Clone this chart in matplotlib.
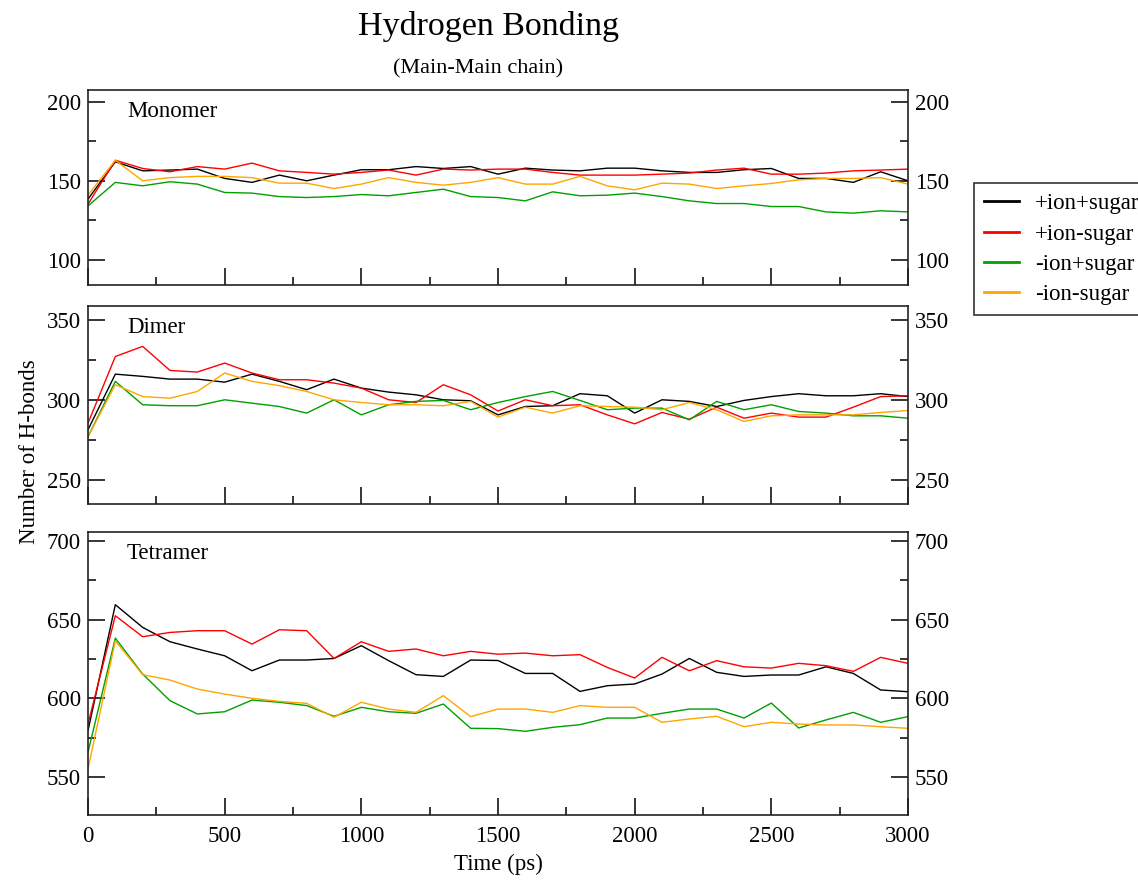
import numpy as np
import matplotlib
matplotlib.use("Agg")
import matplotlib.pyplot as plt
from matplotlib.ticker import MultipleLocator

plt.rcParams['font.family'] = ['Liberation Serif', 'DejaVu Serif']

# waktu simulasi (ps)
time = list(range(0, 3100, 100))
labels = ["+ion+sugar", "+ion-sugar", "-ion+sugar", "-ion-sugar"]
colors = ["black", "red", "#00a000", "orange"]

# Monomer
mono_ion_sugar = [138.4, 162, 156.3, 156.8, 157.4, 151.5, 149, 153.6, 150, 153.6, 157, 157, 159, 157.8, 159, 154.2,
                  158, 156.8, 156.3, 158, 158, 156.3, 155.3, 155.3, 157, 157.8, 151.5, 151.5, 149, 155.7, 150]
mono_ion_nosugar = [135.2, 163, 157.8, 155.7, 159, 157.4, 161.2, 156.3, 155.3, 154.2, 155.3, 156.8, 153.6, 157.4, 156.8, 157.4,
                    157.4, 155.3, 153.6, 153.6, 153.6, 154.2, 154.9, 156.8, 158, 154.2, 154.2, 154.9, 156.3, 156.8, 157.4]
mono_noion_sugar = [134.1, 149, 146.8, 149.4, 147.9, 142.6, 142.2, 140, 139.4, 140, 141.3, 140.5, 142.6, 144.7, 140, 139.4,
                    137.3, 143, 140.5, 140.9, 142.2, 140, 137.3, 135.6, 135.6, 133.7, 133.7, 130.3, 129.5, 131, 130.3]
mono_noion_nosugar = [141, 163, 150, 152, 152.8, 152.8, 152, 148.5, 148.5, 145.1, 147.9, 152, 149, 147.2, 149, 152,
                      147.9, 147.9, 152.8, 146.8, 144.3, 148.5, 147.9, 145.1, 146.8, 148.3, 150.6, 151.5, 151.5, 152, 147.9]

# Dimer
dim_ion_sugar = [281.3, 316, 314.6, 312.9, 312.9, 311, 316, 311.5, 306.3, 312.9, 307.3, 304.8, 303.1, 300, 299.4, 290.6,
                 295.8, 296.3, 303.8, 302.5, 291.7, 300, 299, 295.8, 299.6, 302, 303.8, 302.5, 302.5, 303.8, 302]
dim_ion_nosugar = [285.4, 327, 333.3, 318.3, 317.3, 322.9, 316.7, 312.5, 312.5, 310.4, 307.3, 300, 298.3, 309.4, 303.1, 293,
                   300, 296.3, 296.9, 290.6, 285, 292.1, 287.9, 295.4, 288.5, 291.7, 289.2, 289.2, 295.4, 302, 302.5]
dim_noion_sugar = [277, 311.5, 296.9, 296.3, 296.3, 300, 297.9, 295.8, 291.7, 300, 290.6, 296.9, 299, 299.6, 293.8, 298.3,
                   302, 305.2, 299.6, 293.8, 294.8, 294.8, 287.5, 299, 293.8, 296.9, 292.7, 291.7, 290, 290, 288.5]
dim_noion_nosugar = [277, 309.4, 302, 301, 305.2, 316.7, 311.5, 308.8, 305.2, 300, 298.3, 296.9, 296.9, 296.3, 299, 289.2,
                     295.4, 291.7, 296.3, 295.8, 295.4, 293.8, 298.3, 293.8, 286.5, 290, 290.6, 290.6, 290.6, 292.1, 293.3]

# Tetramer
tet_ion_sugar = [579.5, 659.4, 645, 635.9, 631.3, 627, 617.5, 624.3, 624.3, 625.3, 633.4, 623.9, 615, 613.9, 624.3, 624,
                 615.8, 615.8, 604.4, 608, 609.1, 615.4, 625.3, 616.5, 613.9, 614.8, 614.8, 620, 615.8, 605.3, 604.2]
tet_ion_nosugar = [583.7, 652.4, 639.1, 641.8, 642.9, 642.9, 634.4, 643.5, 642.9, 625.3, 635.9, 629.8, 631.3, 627, 629.8, 628,
                   628.7, 627, 627.7, 619.6, 612.9, 626, 617.5, 623.9, 620, 619.2, 622.2, 620.7, 617.1, 626, 622.2]
tet_noion_sugar = [565.8, 638.2, 615.4, 598.5, 590.1, 591.5, 598.9, 597.5, 595.4, 588.6, 594.3, 591.5, 590.5, 596.4, 581, 580.8,
                   579.1, 581.6, 583.3, 587.5, 587.5, 590.5, 593.2, 593.2, 587.5, 597, 581.2, 586.3, 591.1, 584.8, 588.4]
tet_noion_nosugar = [555.2, 636.5, 615, 611.6, 605.9, 602.7, 600, 598.1, 596.8, 588, 597.5, 593.2, 591.1, 601.7, 588.4, 593.2,
                     593.2, 591.1, 595.4, 594.3, 594.3, 584.8, 586.9, 588.6, 582, 584.8, 583.7, 583.1, 583.1, 582, 581]

W, H = 1138, 883
fig = plt.figure(figsize=(W / 100, H / 100), dpi=100)

def px_axes(left, top, right, bottom):
    return fig.add_axes([left / W, 1 - bottom / H, (right - left) / W, (bottom - top) / H])

panels = [
    ("Monomer", (90, 285), (84, 207.5), [mono_ion_sugar, mono_ion_nosugar, mono_noion_sugar, mono_noion_nosugar]),
    ("Dimer", (306, 504), (235, 358.5), [dim_ion_sugar, dim_ion_nosugar, dim_noion_sugar, dim_noion_nosugar]),
    ("Tetramer", (531.7, 815), (526, 705.7), [tet_ion_sugar, tet_ion_nosugar, tet_noion_sugar, tet_noion_nosugar]),
]

fs = 16.5
lines = []
for k, (name, (top, bottom), ylim, series) in enumerate(panels):
    ax = px_axes(88, top, 908, bottom)
    for s, c, lab in zip(series, colors, labels):
        ln, = ax.plot(time, s, color=c, lw=1.0, label=lab)
        if k == 0:
            lines.append(ln)
    ax.set_xlim(0, 3000)
    ax.set_ylim(*ylim)
    ax.xaxis.set_major_locator(MultipleLocator(500))
    ax.xaxis.set_minor_locator(MultipleLocator(250))
    ax.yaxis.set_major_locator(MultipleLocator(50))
    ax.yaxis.set_minor_locator(MultipleLocator(25))
    ax.tick_params(which='both', direction='in', left=True, right=True, labelright=True,
                   top=False, labelsize=fs, pad=5)
    ax.tick_params(which='major', length=12, width=1.1)
    ax.tick_params(which='minor', length=6, width=1.1)
    if k < 2:
        ax.tick_params(labelbottom=False)
    else:
        ax.tick_params(axis='x', pad=8)
    for sp in ax.spines.values():
        sp.set_linewidth(1.2)
        sp.set_color('#222222')
    # label panel ditempatkan dengan jarak piksel tetap dari tepi atas
    fig.text((88 + 39) / W, 1 - (top + 11) / H, name, fontsize=fs, va='top', ha='left')

fig.text(488 / W, 1 - 27 / H, "Hydrogen Bonding", fontsize=24.5, ha='center', va='center')
fig.text(478 / W, 1 - 69 / H, "(Main-Main chain)", fontsize=16, ha='center', va='center')
fig.text(30 / W, 1 - 452 / H, "Number of H-bonds", fontsize=fs, rotation=90, ha='center', va='center')
fig.text(498 / W, 1 - 864 / H, "Time (ps)", fontsize=fs, ha='center', va='center')

leg = fig.legend(lines, labels, loc='upper left', bbox_to_anchor=(974 / W, 1 - 183 / H),
                 fontsize=fs, frameon=True, fancybox=False, edgecolor='black', borderaxespad=0,
                 handlelength=1.5, handletextpad=0.7, labelspacing=0.4, borderpad=0.45)
leg.get_frame().set_linewidth(1.2)
for h in leg.legend_handles:
    h.set_linewidth(2)

fig.savefig("out.png", dpi=100)
